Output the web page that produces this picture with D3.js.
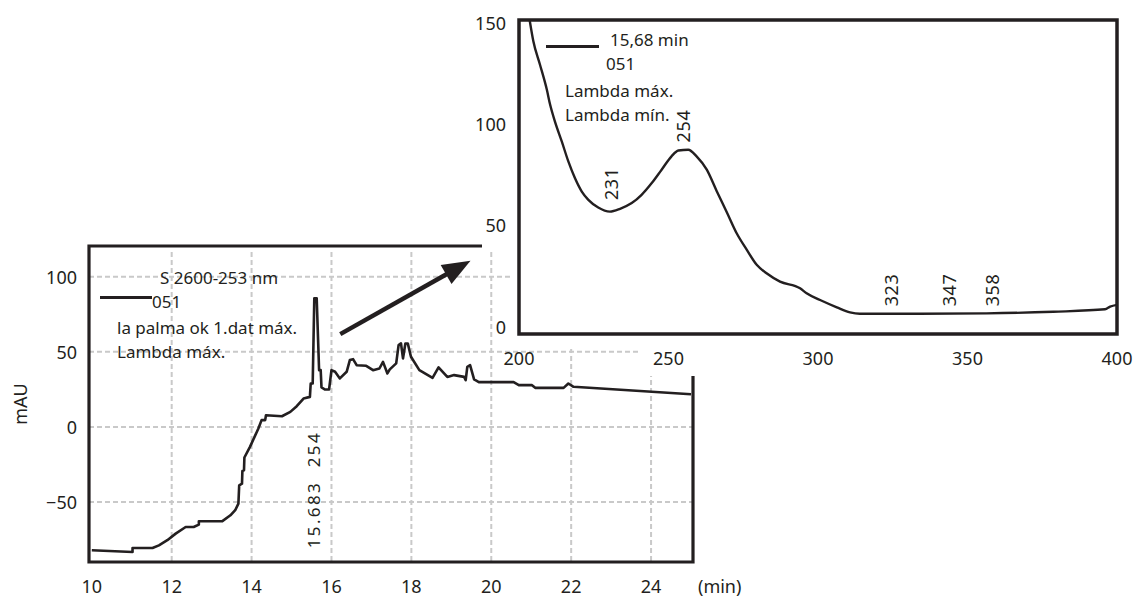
<!DOCTYPE html>
<html>
<head>
<meta charset="utf-8">
<script src="https://cdn.jsdelivr.net/npm/d3@7"></script>
<style>
  body { margin: 0; background: #fff; }
  text { font-family: "Noto Sans", "Open Sans", sans-serif; fill: #231f20; }
</style>
</head>
<body>
<div id="chart"></div>
<script>
// chromatogram (main panel)
const mainTime = [10.0, 11.02, 11.02, 11.52, 11.68, 11.89, 12.1, 12.35, 12.55, 12.68, 12.68, 13.26, 13.47, 13.59,
  13.67, 13.69, 13.76, 13.77, 13.81, 13.82, 13.96, 14.17, 14.25, 14.34, 14.36, 14.76, 14.97, 15.13, 15.3, 15.46,
  15.48, 15.53, 15.57, 15.63, 15.69, 15.73, 15.75, 15.84, 15.94, 16.0, 16.09, 16.21, 16.38, 16.46, 16.54, 16.63,
  16.87, 17.04, 17.2, 17.29, 17.4, 17.46, 17.62, 17.68, 17.74, 17.79, 17.85, 17.91, 17.99, 18.2, 18.53, 18.68,
  18.9, 19.07, 19.32, 19.36, 19.4, 19.47, 19.57, 19.69, 20.56, 20.69, 21.02, 21.1, 21.81, 21.93, 22.06, 25.0];
const mainSignal = [-82.2, -83.3, -80.7, -80.7, -78.9, -75.5, -71.1, -66.7, -66.7, -65.1, -62.9, -62.9, -58.9, -55.5,
  -51.1, -38.9, -37.8, -29.3, -28.9, -20.4, -13.3, -1.1, 4.5, 4.5, 7.8, 7.1, 10, 13.8, 18.9, 20,
  28.9, 28.9, 85.6, 85.6, 37.8, 37.8, 26.3, 24.9, 24.9, 37.8, 36.7, 32.3, 36.7, 44.5, 45.1, 41.1,
  40.7, 37.8, 38.9, 43.3, 35.6, 38.3, 42.3, 54.5, 55.6, 45.6, 55.6, 55.6, 46.7, 37.8, 32.7, 39.6,
  33.3, 34.5, 33.3, 31.1, 40, 41.1, 31.6, 29.8, 29.8, 27.8, 27.8, 26, 26, 28.9, 26.7, 21.7];
const mainXTicks = [10, 12, 14, 16, 18, 20, 22, 24];
const mainYTicks = [-50, 0, 50, 100];
const mainLegend = ["S 2600-253 nm", "051", "la palma ok 1.dat máx.", "Lambda máx."];

// UV spectrum at 15,68 min (inset)
const waveLength = [203.5, 204.8, 207, 209.3, 210.4, 212, 214.3, 216.5, 218.7, 221, 223.2, 226.5, 230.4, 233.8,
  237.7, 241, 244.4, 247.7, 251, 253.3, 256.6, 259.4, 262.8, 266.1, 269.5, 272.8, 276.2, 279.5, 282.8, 287.3,
  294, 296.2, 300.7, 306.3, 310.7, 314, 334, 356.4, 378.7, 396, 397.7, 400];
const absorbance = [152, 141, 129.5, 117.1, 109.7, 101.4, 91.5, 81.6, 73.4, 66.7, 62.6, 58.8, 56.8, 58.2,
  61, 65.1, 70.9, 77.5, 84.1, 87, 87.4, 84.1, 77.5, 67, 56.5, 46.1, 37.9, 30.5, 26.3, 22.2,
  18.9, 16.4, 13.1, 9.5, 7, 6.3, 6.3, 6.5, 7.3, 8.5, 9.8, 10.7];
const insetXTicks = [200, 250, 300, 350, 400];
const insetYTicks = [0, 50, 100, 150];
const insetLegend = ["15,68 min", "051", "Lambda máx.", "Lambda mín."];
// wavelength labels: text, x position (nm), bottom of label (mAU)
const lambdaText = ["231", "254", "323", "347", "358"];
const lambdaAt = [231, 255, 324.5, 344, 358.5];
const lambdaBase = [62.5, 91, 10, 10, 10];

const ink = "#231f20";
const W = 1135, H = 599;

const svg = d3.select("#chart").append("svg")
  .attr("width", W).attr("height", H);

// ---------- main panel ----------
const m = { left: 89, top: 246, right: 693, bottom: 562 };
const x = d3.scaleLinear().domain([9.93, 25.05]).range([m.left, m.right]);
const y = d3.scaleLinear().domain([-90, 120.5]).range([m.bottom, m.top]);

const grid = svg.append("g")
  .attr("stroke", "#c9c9c9").attr("stroke-width", 2).attr("stroke-dasharray", "5,3");
grid.selectAll("line.v").data(mainXTicks.filter(d => d > 10)).join("line")
  .attr("x1", d => x(d)).attr("x2", d => x(d))
  .attr("y1", m.top + 6).attr("y2", m.bottom);
grid.selectAll("line.h").data(mainYTicks).join("line")
  .attr("x1", m.left).attr("x2", m.right)
  .attr("y1", d => y(d)).attr("y2", d => y(d));

// legend text
const legendY = [283.5, 308, 334, 358];
const legendX = [160, 152, 117, 117];
svg.append("g").selectAll("text").data(mainLegend).join("text")
  .attr("x", (d, i) => legendX[i]).attr("y", (d, i) => legendY[i])
  .attr("font-size", 17).text(d => d);
svg.append("line").attr("x1", 100).attr("x2", 152).attr("y1", 297.5).attr("y2", 297.5)
  .attr("stroke", ink).attr("stroke-width", 3);

const mainData = mainTime.map((t, i) => ({ t, v: mainSignal[i] }));
svg.append("path").datum(mainData)
  .attr("fill", "none").attr("stroke", ink).attr("stroke-width", 2.6)
  .attr("stroke-linejoin", "round")
  .attr("d", d3.line().x(d => x(d.t)).y(d => y(d.v)));

// retention time / wavelength labels
[["15.683", 15.57, -80.9], ["254", 15.57, -26.9]].forEach(([s, t, v]) => {
  svg.append("text")
    .attr("transform", `translate(${x(t)},${y(v)}) rotate(-90)`)
    .attr("dy", "0.36em").attr("font-size", 17).attr("letter-spacing", 2.4)
    .text(s);
});

// arrow pointing to the spectrum
const arrowFrom = [16.22, 61.8], arrowTo = [19.48, 110.7];
const ax0 = x(arrowFrom[0]), ay0 = y(arrowFrom[1]), ax1 = x(arrowTo[0]), ay1 = y(arrowTo[1]);
const ang = Math.atan2(ay1 - ay0, ax1 - ax0);
const headLen = 28, headHalf = 11;
const bx = ax1 - headLen * Math.cos(ang), by = ay1 - headLen * Math.sin(ang);
svg.append("line").attr("x1", ax0).attr("y1", ay0).attr("x2", bx + 4 * Math.cos(ang)).attr("y2", by + 4 * Math.sin(ang))
  .attr("stroke", ink).attr("stroke-width", 4.5);
svg.append("polygon")
  .attr("points", [[ax1, ay1],
    [bx + headHalf * Math.sin(ang), by - headHalf * Math.cos(ang)],
    [bx - headHalf * Math.sin(ang), by + headHalf * Math.cos(ang)]].map(p => p.join(",")).join(" "))
  .attr("fill", ink);

// axis labels
svg.append("g").selectAll("text").data(mainXTicks).join("text")
  .attr("x", d => x(d)).attr("y", 593).attr("text-anchor", "middle")
  .attr("font-size", 18).text(d => d);
svg.append("text").attr("x", 698).attr("y", 593).attr("font-size", 18).text("(min)");
svg.append("g").selectAll("text").data(mainYTicks).join("text")
  .attr("x", 77).attr("y", d => y(d) + 7).attr("text-anchor", "end")
  .attr("font-size", 18).text(d => d < 0 ? "\u2212" + Math.abs(d) : d);
svg.append("text").attr("transform", "translate(21,404) rotate(-90)")
  .attr("text-anchor", "middle").attr("dy", "0.36em").attr("font-size", 18).text("mAU");

// ---------- inset panel ----------
// white paper of the inset covers the top right of the main panel
svg.append("path")
  .attr("d", "M512,0H1135V376H640V349H512Z").attr("fill", "#fff");

const n = { left: 519, top: 20, right: 1117, bottom: 334 };
const x2 = d3.scaleLinear().domain([200, 400]).range([n.left, n.right]);
const y2 = d3.scaleLinear().domain([-3.7, 151.5]).range([n.bottom, n.top]);

svg.append("clipPath").attr("id", "insetClip").append("rect")
  .attr("x", n.left).attr("y", n.top).attr("width", n.right - n.left).attr("height", n.bottom - n.top);

const specData = waveLength.map((w, i) => ({ w, a: absorbance[i] }));
svg.append("path").datum(specData)
  .attr("clip-path", "url(#insetClip)")
  .attr("fill", "none").attr("stroke", ink).attr("stroke-width", 2.4)
  .attr("d", d3.line().x(d => x2(d.w)).y(d => y2(d.a)).curve(d3.curveMonotoneX));

svg.append("rect")
  .attr("x", n.left).attr("y", n.top).attr("width", n.right - n.left).attr("height", n.bottom - n.top)
  .attr("fill", "none").attr("stroke", ink).attr("stroke-width", 3.5);

svg.append("line").attr("x1", 546).attr("x2", 599).attr("y1", 46.5).attr("y2", 46.5)
  .attr("stroke", ink).attr("stroke-width", 3);
const insetLegX = [610, 606, 565, 565], insetLegY = [45.5, 70, 96.5, 121];
svg.append("g").selectAll("text").data(insetLegend).join("text")
  .attr("x", (d, i) => insetLegX[i]).attr("y", (d, i) => insetLegY[i])
  .attr("font-size", 17).text(d => d);

svg.append("g").selectAll("text").data(lambdaText).join("text")
  .attr("transform", (d, i) => `translate(${x2(lambdaAt[i])},${y2(lambdaBase[i])}) rotate(-90)`)
  .attr("dy", "0.36em").attr("font-size", 18).attr("letter-spacing", 0.6)
  .text(d => d);

svg.append("g").selectAll("text").data(insetXTicks).join("text")
  .attr("x", d => x2(d)).attr("y", 365).attr("text-anchor", "middle")
  .attr("font-size", 18).text(d => d);
svg.append("g").selectAll("text").data(insetYTicks).join("text")
  .attr("x", 506).attr("y", d => y2(d) + 7).attr("text-anchor", "end")
  .attr("font-size", 18).text(d => d);

// ---------- main frame (partly hidden behind the inset) ----------
const frame = svg.append("g").attr("stroke", ink).attr("stroke-width", 3.2).attr("fill", "none");
frame.append("path").attr("d", `M482,${m.top}H${m.left}V${m.bottom}H${m.right}V376`);
</script>
</body>
</html>
